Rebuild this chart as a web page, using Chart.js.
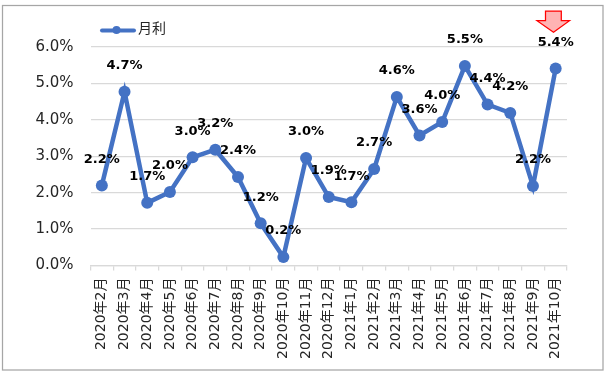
<!DOCTYPE html>
<html lang="ja">
  <head>
    <meta charset="UTF-8" />
    <title>月利</title>
    <script src="https://cdn.jsdelivr.net/npm/chart.js"></script>
    <style>
      html, body { margin: 0; padding: 0; background: #fff; }
      canvas { display: block; }
    </style>
  </head>
  <body>
    <canvas id="myChart" width="608" height="379"></canvas>
  </body>
  <script>
    const categories = [
      "2020年2月", "2020年3月", "2020年4月", "2020年5月", "2020年6月", "2020年7月", "2020年8月",
      "2020年9月", "2020年10月", "2020年11月", "2020年12月", "2021年1月", "2021年2月", "2021年3月",
      "2021年4月", "2021年5月", "2021年6月", "2021年7月", "2021年8月", "2021年9月", "2021年10月",
    ];
    const seriesName = "月利";
    const monthlyRate = [
      2.2, 4.77, 1.72, 2.02, 2.97, 3.18, 2.43, 1.16, 0.23, 2.95, 1.88,
      1.74, 2.65, 4.63, 3.57, 3.94, 5.48, 4.42, 4.19, 2.18, 5.41,
    ];
    // the labels as printed in the picture
    const valueLabels = [
      "2.2%", "4.7%", "1.7%", "2.0%", "3.0%", "3.2%", "2.4%", "1.2%", "0.2%", "3.0%", "1.9%",
      "1.7%", "2.7%", "4.6%", "3.6%", "4.0%", "5.5%", "4.4%", "4.2%", "2.2%", "5.4%",
    ];

    const BLUE = "#4472C4";
    const GRID = "#d9d9d9";
    const TEXT = "#262626";
    const AXIS_FONT = '"DejaVu Sans", "Noto Sans CJK JP", sans-serif';

    const chartFrame = {
      id: "chartFrame",
      beforeDraw(chart) {
        const c = chart.ctx;
        c.save();
        c.fillStyle = "#fff";
        c.fillRect(0, 0, chart.width, chart.height);
        c.strokeStyle = "#a6a6a6";
        c.lineWidth = 1.25;
        c.strokeRect(2.5, 5.5, 600.5, 375 - 5.5 - 5);
        c.restore();
      },
    };

    const valueLabelPlugin = {
      id: "valueLabelPlugin",
      afterDatasetsDraw(chart) {
        const c = chart.ctx;
        c.save();
        c.font = 'bold 13px "DejaVu Sans"';
        c.fillStyle = "#000";
        c.textAlign = "center";
        c.textBaseline = "middle";
        chart.getDatasetMeta(0).data.forEach((pt, i) => {
          c.fillText(valueLabels[i], pt.x, pt.y - 26);
        });
        c.restore();
      },
    };

    const legendAndArrow = {
      id: "legendAndArrow",
      afterDraw(chart) {
        const c = chart.ctx;
        c.save();
        // legend
        c.strokeStyle = BLUE;
        c.lineWidth = 4;
        c.lineCap = "round";
        c.beginPath();
        c.moveTo(102, 30.5);
        c.lineTo(134, 30.5);
        c.stroke();
        c.fillStyle = BLUE;
        c.beginPath();
        c.arc(116.5, 30, 4, 0, Math.PI * 2);
        c.fill();
        c.fillStyle = TEXT;
        c.font = '14px "Noto Sans CJK JP"';
        c.textAlign = "left";
        c.textBaseline = "middle";
        c.fillText(seriesName, 138, 27.5);
        // red arrow above the last point
        c.beginPath();
        c.moveTo(545.5, 11);
        c.lineTo(561.3, 11);
        c.lineTo(561.3, 20.7);
        c.lineTo(569.5, 20.7);
        c.lineTo(553.5, 32.3);
        c.lineTo(537, 20.7);
        c.lineTo(545.5, 20.7);
        c.closePath();
        c.fillStyle = "#ffb3b3";
        c.fill();
        c.strokeStyle = "#ff0000";
        c.lineWidth = 1.25;
        c.lineCap = "butt";
        c.stroke();
        c.restore();
      },
    };

    new Chart(document.getElementById("myChart"), {
      type: "line",
      data: {
        labels: categories,
        datasets: [
          {
            label: seriesName,
            data: monthlyRate,
            borderColor: BLUE,
            backgroundColor: BLUE,
            borderWidth: 4.5,
            pointRadius: 6,
            pointHoverRadius: 6,
            pointBackgroundColor: BLUE,
            pointBorderColor: BLUE,
            pointBorderWidth: 0,
            tension: 0,
          },
        ],
      },
      options: {
        responsive: false,
        animation: false,
        layout: { padding: { top: 47, left: 0, right: 41, bottom: 0 } },
        plugins: { legend: { display: false }, tooltip: { enabled: false } },
        scales: {
          y: {
            min: 0,
            max: 6,
            afterFit(scale) { scale.width = 90.5; },
            border: { display: false },
            grid: { color: GRID, lineWidth: 1.25, drawTicks: false },
            ticks: {
              stepSize: 1,
              padding: 17,
              color: TEXT,
              font: { family: AXIS_FONT, size: 15 },
              callback: (v) => v.toFixed(1) + "%",
            },
          },
          x: {
            offset: true,
            afterFit(scale) { scale.height = 379 - 265.5; },
            border: { color: GRID, width: 1.25 },
            grid: { color: GRID, lineWidth: 1.25, drawOnChartArea: false, tickLength: 5, offset: true },
            ticks: {
              autoSkip: false,
              minRotation: 90,
              maxRotation: 90,
              padding: 7,
              color: TEXT,
              font: { family: AXIS_FONT, size: 14 },
            },
          },
        },
      },
      plugins: [chartFrame, valueLabelPlugin, legendAndArrow],
    });
  </script>
</html>
